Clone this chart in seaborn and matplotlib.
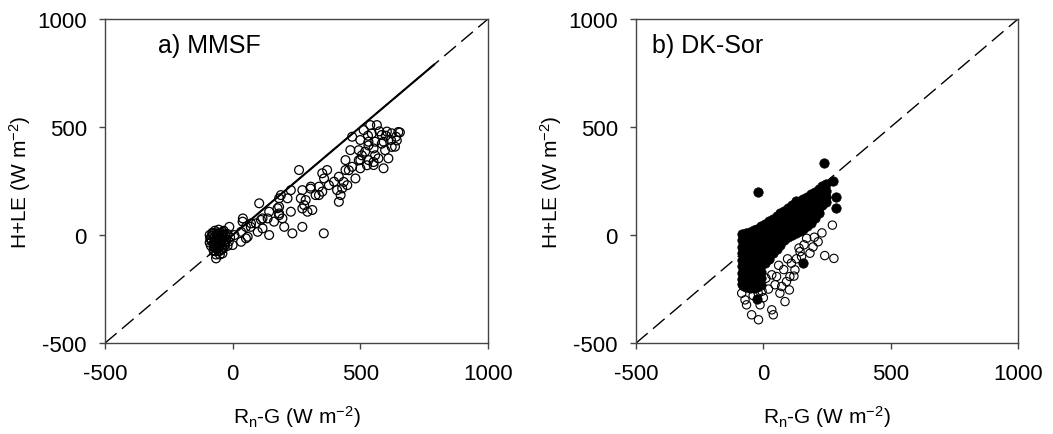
import pandas as pd
import matplotlib
matplotlib.use('Agg')
import matplotlib.pyplot as plt
import seaborn as sns

sns.set_style('ticks')
plt.rcParams['font.family'] = ['Liberation Sans', 'DejaVu Sans']
plt.rcParams['mathtext.fontset'] = 'custom'
plt.rcParams['mathtext.rm'] = 'Liberation Sans'
plt.rcParams['mathtext.it'] = 'Liberation Sans'
plt.rcParams['axes.unicode_minus'] = False
plt.rcParams['text.color'] = 'black'
plt.rcParams['axes.labelcolor'] = 'black'
plt.rcParams['xtick.labelcolor'] = 'black'
plt.rcParams['ytick.labelcolor'] = 'black'

# a) MMSF - open circles (Rn-G, H+LE)
mmsf_pts = [
    (649, 477), (623, 471), (604, 479), (584, 463), (565, 509), (539, 509), (513, 486),
    (468, 455), (500, 440), (532, 432), (558, 432), (591, 432), (636, 409), (597, 393),
    (552, 401), (519, 386), (494, 393), (461, 393), (610, 355), (571, 355), (532, 347),
    (500, 347), (442, 347), (552, 324), (591, 309), (500, 309), (468, 316), (442, 301),
    (481, 262), (449, 231), (416, 270), (397, 247), (429, 216), (416, 154), (423, 185),
    (370, 301), (351, 286), (358, 262), (338, 224), (306, 224), (351, 201), (325, 185),
    (273, 208), (260, 301), (228, 208), (189, 185), (182, 170), (215, 170), (267, 170),
    (280, 139), (293, 108), (312, 116), (228, 108), (273, 38), (234, 8), (357, 8),
    (176, 124), (182, 100), (195, 77), (202, 38), (143, 108), (137, 77), (104, 147),
    (111, 70), (117, 31), (143, 0), (91, 54), (98, 15), (72, 54), (52, 38), (40, 77),
    (33, 15), (59, -8), (33, -31), (7, 0), (-13, 38), (0, -46), (-39, 15), (-65, -108),
    (655, 475), (640, 455), (620, 440), (600, 460), (575, 480), (545, 470), (530, 460),
    (558, 369), (584, 423), (623, 408), (643, 438), (552, 338), (532, 415), (506, 369),
    (526, 323), (494, 346), (455, 300), (435, 246), (409, 208), (377, 231), (338, 185),
    (305, 215), (286, 162), (273, 123), (182, 131), (182, 92), (162, 62), (117, 77),
    (71, 38), (39, 62), (52, -15), (-90, 0), (-85, -20), (-80, 10), (-75, -40), (-70, -10),
    (-70, 20), (-65, -60), (-60, -30), (-60, 5), (-55, -75), (-55, 25), (-50, -50),
    (-50, -15), (-45, 10), (-45, -35), (-40, -65), (-40, -5), (-35, 20), (-35, -25),
    (-30, -45), (-30, 0), (-25, -20), (-20, 5), (-85, -50), (-90, -35), (-75, -70),
    (-65, -90), (-50, -90), (-40, -85), (-80, -5), (-55, -5), (-45, -20), (-65, -45),
    (-60, -20), (-70, -25), (-15, -30), (-10, -10), (-20, -50), (-88, -15), (-78, 5),
    (-72, -55), (-62, 12), (-58, -62), (-52, 8), (-48, -30), (-42, -48), (-38, 2),
    (-32, -12), (-28, -32), (-82, -30), (-68, -75), (-48, -72), (-35, -60),
]

# b) DK-Sor - open circles (lower group)
sor_open = [
    (271, 46), (241, -95), (277, -108), (215, -31), (170, -15), (183, -84), (144, -77),
    (160, -45), (195, -55), (124, -161), (104, -192), (91, -215), (102, -254), (85, -308),
    (65, -269), (72, -238), (46, -230), (52, -192), (33, -184), (39, -369), (33, -346),
    (-13, -323), (-19, -392), (-46, -369), (-66, -323), (-72, -300), (-85, -269), (-78, -238),
    (-52, -238), (-40, -280), (-20, -270), (0, -290), (20, -250), (110, -130), (130, -110),
    (150, -100), (120, -190), (80, -160), (60, -140), (95, -110), (140, -60), (200, -10),
    (230, 10), (10, -200), (-5, -260),
]

# b) DK-Sor - filled circles
sor_filled = [
    (-83, 5), (-83, -25), (-83, -55), (-83, -85), (-83, -115), (-83, -145), (-83, -175), (-83, -205), (-83, -225),
    (-68, 10), (-68, -20), (-68, -50), (-68, -80), (-68, -110), (-68, -140), (-68, -170), (-68, -200), (-68, -230), (-68, -240),
    (-53, 15), (-53, -15), (-53, -45), (-53, -75), (-53, -105), (-53, -135), (-53, -165), (-53, -195), (-53, -225), (-53, -245),
    (-38, 22), (-38, -8), (-38, -38), (-38, -68), (-38, -98), (-38, -128), (-38, -158), (-38, -188), (-38, -218), (-38, -245),
    (-23, 30), (-23, 0), (-23, -30), (-23, -60), (-23, -90), (-23, -120), (-23, -150), (-23, -180), (-23, -210), (-23, -240),
    (-8, 40), (-8, 10), (-8, -20), (-8, -50), (-8, -80), (-8, -110), (-8, -140), (-8, -170), (-8, -200), (-8, -230),
    (7, 50), (7, 20), (7, -10), (7, -40), (7, -70), (7, -100), (7, -130),
    (22, 63), (22, 33), (22, 3), (22, -27), (22, -57), (22, -87), (22, -110),
    (37, 75), (37, 45), (37, 15), (37, -15), (37, -45), (37, -85),
    (52, 88), (52, 58), (52, 28), (52, -2), (52, -32), (52, -65),
    (67, 100), (67, 70), (67, 40), (67, 10), (67, -20), (67, -45),
    (82, 112), (82, 82), (82, 52), (82, 22), (82, -8), (82, -25),
    (97, 125), (97, 95), (97, 65), (97, 35), (97, 5), (97, -10),
    (112, 138), (112, 108), (112, 78), (112, 48), (112, 18), (112, 0),
    (127, 148), (127, 118), (127, 88), (127, 58), (127, 28), (127, 10),
    (142, 158), (142, 128), (142, 98), (142, 68), (142, 38), (142, 20),
    (157, 165), (157, 135), (157, 105), (157, 75), (157, 45), (157, 30),
    (172, 175), (172, 145), (172, 115), (172, 85), (172, 55), (172, 40),
    (187, 188), (187, 158), (187, 128), (187, 98), (187, 68), (187, 55),
    (202, 200), (202, 170), (202, 140), (202, 110), (202, 80),
    (217, 215), (217, 185), (217, 155), (217, 125), (217, 100),
    (232, 228), (232, 198), (232, 168), (232, 140),
    (247, 235), (247, 205), (247, 175), (247, 155),
    (237, 332), (-22, 197), (274, 249), (284, 177), (284, 123), (130, 157), (157, -131), (-24, -295),
]

fit_range = [-90, 790]
one_to_one = [-500, 1000]
ticks = [-500, 0, 500, 1000]

df_a = pd.DataFrame(mmsf_pts, columns=['rng', 'hle'])
df_bo = pd.DataFrame(sor_open, columns=['rng', 'hle'])
df_bf = pd.DataFrame(sor_filled, columns=['rng', 'hle'])

fig = plt.figure(figsize=(10.53, 4.35), dpi=100)
ax1 = fig.add_axes([0.0997, 0.209, 0.3637, 0.745])
ax2 = fig.add_axes([0.604, 0.209, 0.3628, 0.745])

for ax in (ax1, ax2):
    ax.plot(one_to_one, one_to_one, color='black', lw=1, dashes=(11, 5), zorder=1)

ax1.plot(fit_range, fit_range, color='black', lw=1.5, zorder=1)
sns.scatterplot(data=df_a, x='rng', y='hle', ax=ax1, s=40, facecolors='none',
                edgecolor='black', linewidth=0.9, zorder=3)

sns.scatterplot(data=df_bo, x='rng', y='hle', ax=ax2, s=36, facecolors='none',
                edgecolor='black', linewidth=0.8, zorder=2)
sns.scatterplot(data=df_bf, x='rng', y='hle', ax=ax2, s=46, color='black',
                edgecolor='black', linewidth=0.5, zorder=3)

ax1.text(-292, 847, 'a) MMSF', fontsize=18)
ax2.text(-437, 847, 'b) DK-Sor', fontsize=18)

for ax in (ax1, ax2):
    ax.set_xlim(-500, 1000)
    ax.set_ylim(-500, 1000)
    ax.set_xticks(ticks)
    ax.set_yticks(ticks)
    ax.tick_params(labelsize=16, direction='out', length=4, width=1, color='#444444')
    ax.tick_params(axis='x', pad=10)
    ax.tick_params(axis='y', pad=9)
    ax.set_xlabel(r'R$_{\mathregular{n}}$-G (W m$^{\mathregular{-2}}$)', fontsize=15, labelpad=14)
    ax.set_ylabel(r'H+LE (W m$^{\mathregular{-2}}$)', fontsize=15, labelpad=3)
    for sp in ax.spines.values():
        sp.set_visible(True)
        sp.set_color('#444444')
        sp.set_linewidth(1)

fig.savefig('out.png', dpi=100)
